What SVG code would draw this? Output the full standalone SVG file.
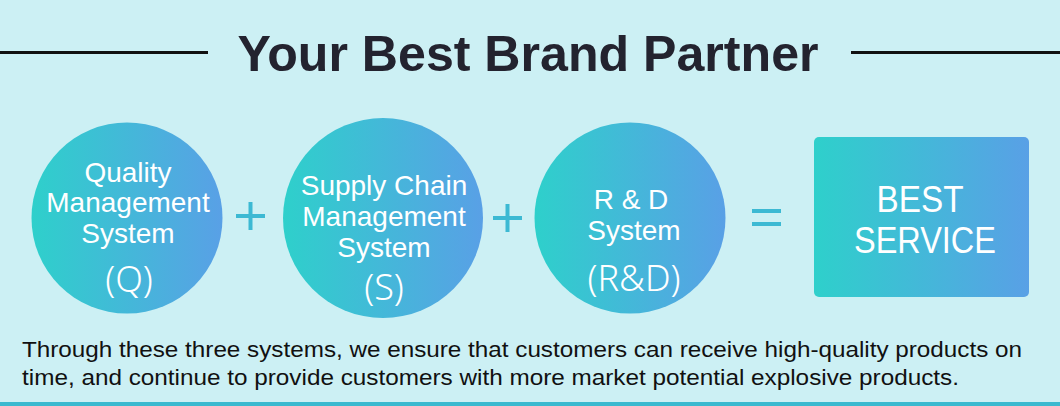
<svg xmlns="http://www.w3.org/2000/svg" width="1060" height="406" viewBox="0 0 1060 406">
<defs>
<linearGradient id="g" x1="0" y1="0" x2="1" y2="0">
<stop offset="0" stop-color="#2ed0cb"/>
<stop offset="1" stop-color="#59a0e6"/>
</linearGradient>
<style>
.ct{font-family:"Liberation Sans",Arial,sans-serif;font-size:28px;fill:#fff;text-anchor:middle}
.cp{font-family:"Noto Sans","Liberation Sans",sans-serif;font-weight:300;font-size:36px;fill:#fff;text-anchor:middle}
.op{stroke:#3cb9d3;stroke-width:4;fill:none}
.bt{font-family:"Liberation Sans",Arial,sans-serif;font-size:36px;fill:#fff;text-anchor:middle}
.body{font-family:"Liberation Sans",Arial,sans-serif;font-size:22px;fill:#111}
</style>
</defs>
<rect width="1060" height="406" fill="#ccf0f4"/>
<rect x="0" y="402" width="1060" height="4" fill="#3ab9cf"/>
<g id="title">
<line x1="0" y1="52.5" x2="208" y2="52.5" stroke="#111" stroke-width="3"/>
<line x1="851" y1="52.5" x2="1060" y2="52.5" stroke="#111" stroke-width="3"/>
<text x="528" y="71" font-family="Liberation Sans,Arial,sans-serif" font-weight="bold" font-size="50" fill="#23232f" text-anchor="middle" textLength="581" lengthAdjust="spacingAndGlyphs">Your Best Brand Partner</text>
</g>
<g id="node-q">
<circle cx="127" cy="218" r="95.5" fill="url(#g)"/>
<text class="ct" x="128" y="182">Quality</text>
<text class="ct" x="128" y="212">Management</text>
<text class="ct" x="128" y="243">System</text>
<text class="cp" x="129" y="292">(Q)</text>
</g>
<g id="node-s">
<circle cx="383" cy="218" r="100" fill="url(#g)"/>
<text class="ct" x="384" y="195">Supply Chain</text>
<text class="ct" x="384" y="226">Management</text>
<text class="ct" x="384" y="257">System</text>
<text class="cp" x="384" y="300">(S)</text>
</g>
<g id="node-rd">
<circle cx="630" cy="218" r="95.5" fill="url(#g)"/>
<text class="ct" x="631" y="209">R &amp; D</text>
<text class="ct" x="634" y="240">System</text>
<text class="cp" x="634" y="291">(R&amp;D)</text>
</g>
<g id="node-best">
<rect x="814" y="137" width="215" height="160" rx="5" fill="url(#g)"/>
<text class="bt" x="920" y="212" textLength="87" lengthAdjust="spacingAndGlyphs">BEST</text>
<text class="bt" x="925" y="253" textLength="142" lengthAdjust="spacingAndGlyphs">SERVICE</text>
</g>
<g id="connectors">
<path class="op" d="M236 216H265M250.5 202V230"/>
<path class="op" d="M493 218H522M507.5 204V232"/>
<path class="op" d="M752 211H781M752 224H781"/>
</g>
<g id="caption">
<text class="body" x="22" y="357" textLength="1000" lengthAdjust="spacingAndGlyphs">Through these three systems, we ensure that customers can receive high-quality products on</text>
<text class="body" x="22" y="385" textLength="937" lengthAdjust="spacingAndGlyphs">time, and continue to provide customers with more market potential explosive products.</text>
</g>
</svg>
